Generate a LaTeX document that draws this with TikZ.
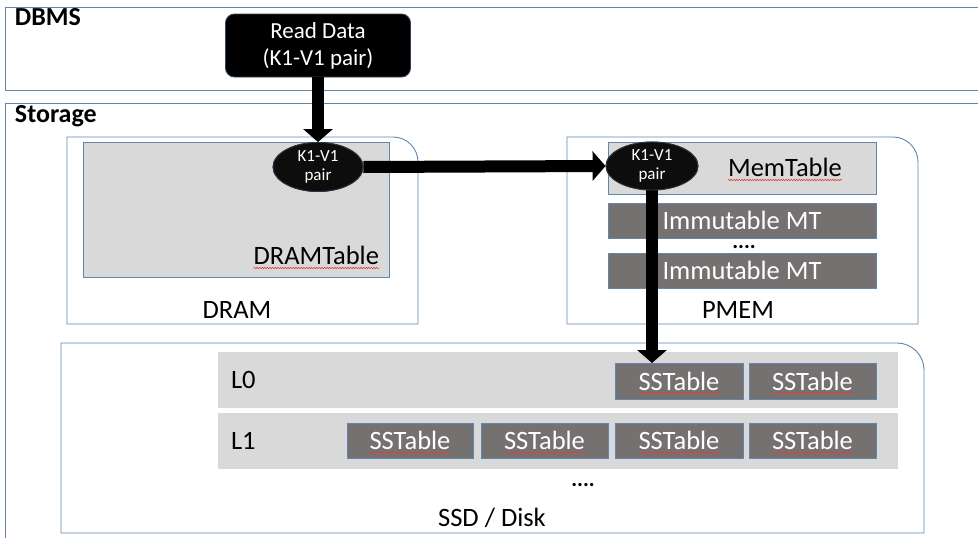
\documentclass[tikz,border=0pt]{standalone}
\usepackage{fontspec}
\setmainfont{Carlito}
\usetikzlibrary{arrows.meta,shapes.geometric,decorations.pathmorphing}

\definecolor{frameblue}{HTML}{6386B0}
\definecolor{lightfill}{HTML}{D9D9D9}
\definecolor{darkfill}{HTML}{767171}
\definecolor{ellfill}{HTML}{0D0D0D}
\definecolor{spellred}{HTML}{E0403A}

\newcommand{\sz}[2]{\fontsize{#1}{#2}\selectfont}

\tikzset{
  x=1pt, y=1pt,
  frameline/.style={draw=frameblue, line width=0.9pt},
  areabox/.style={frameline, anchor=north west, inner sep=0pt, outer sep=0pt},
  tablebox/.style={areabox, fill=lightfill},
  blockbox/.style={areabox, fill=darkfill, text=white, font=\sz{26.5}{31}},
  levelrow/.style={anchor=north west, inner sep=0pt, outer sep=0pt, fill=lightfill},
  pairnode/.style={ellipse, fill=ellfill, draw=frameblue!40!black, line width=0.9pt,
    text=white, inner sep=0pt, font=\sz{17}{19.5}, align=center},
  caption/.style={inner sep=0pt, outer sep=0pt, font=\sz{26.5}{31}},
  title/.style={inner sep=0pt, outer sep=0pt, font=\bfseries\sz{26}{30}},
  dots/.style={inner sep=0pt, outer sep=0pt, anchor=base, font=\bfseries\sz{22}{26},
    text height=4pt, text depth=0pt},
  flow/.style={line width=12pt, -{Triangle[length=13pt,width=29pt]}},
  spell/.style={spellred, line width=0.6pt, decorate,
    decoration={snake, segment length=2.6pt, amplitude=0.7pt}},
}

\begin{document}
\begin{tikzpicture}
\clip (0,0) rectangle (978,-538);
\fill[white] (0,0) rectangle (978,-538);

% outer layers
\node[areabox, minimum width=990pt, minimum height=83pt] (dbms) at (5,-7) {};
\node[title, anchor=base west] (dbmslbl) at (15,-25) {DBMS};
\node[areabox, minimum width=990pt, minimum height=460pt] (storage) at (5,-103) {};
\node[title, anchor=base west] (storagelbl) at (15,-122) {Storage};

% memory panels with one rounded corner
\draw[frameline] (67,-324) -- (67,-137) -- (393,-137)
  arc[start angle=90, end angle=0, radius=25pt] -- (418,-324) -- cycle;
\draw[frameline] (567,-324) -- (567,-137) -- (893,-137)
  arc[start angle=90, end angle=0, radius=25pt] -- (918,-324) -- cycle;
\draw[frameline] (61,-533) -- (61,-343) -- (897,-343)
  arc[start angle=90, end angle=0, radius=27pt] -- (924,-533) -- cycle;

% DRAM
\node[tablebox, minimum width=306pt, minimum height=135pt] (dramtable) at (83,-142) {};
\node[caption, anchor=base east] (dramtablelbl) at (379,-264) {DRAMTable};
\draw[spell] ([yshift=-4pt]dramtablelbl.base west) -- ([yshift=-4pt]dramtablelbl.base east);
\node[caption, anchor=base] (dramlbl) at (237,-318) {DRAM};

% PMEM
\node[tablebox, minimum width=268pt, minimum height=52pt] (memtable) at (608,-142) {};
\node[caption, anchor=base] (memtablelbl) at (785,-176) {MemTable};
\draw[spell] ([yshift=-4pt]memtablelbl.base west) -- ([yshift=-4pt]memtablelbl.base east);
\node[blockbox, minimum width=268pt, minimum height=35pt] (imm1) at (608,-203) {Immutable MT};
\node[dots] (pmemdots) at (744,-248.5) {....};
\node[blockbox, minimum width=268pt, minimum height=35pt] (imm2) at (608,-253) {Immutable MT};
\node[caption, anchor=base] (pmemlbl) at (738,-318) {PMEM};

% SSD / Disk levels
\node[levelrow, minimum width=680pt, minimum height=56pt] (l0row) at (218,-352) {};
\node[levelrow, minimum width=680pt, minimum height=56pt] (l1row) at (218,-413) {};
\node[caption, anchor=west] (l0lbl) at (231,-380) {L0};
\node[caption, anchor=west] (l1lbl) at (231,-441) {L1};

\node[blockbox, minimum width=128pt, minimum height=36pt] (s01) at (615,-363) {SSTable};
\node[blockbox, minimum width=127pt, minimum height=36pt] (s02) at (749,-363) {SSTable};
\node[blockbox, minimum width=126pt, minimum height=35pt] (s11) at (347,-423) {SSTable};
\node[blockbox, minimum width=127pt, minimum height=35pt] (s12) at (481,-423) {SSTable};
\node[blockbox, minimum width=128pt, minimum height=35pt] (s13) at (615,-423) {SSTable};
\node[blockbox, minimum width=127pt, minimum height=35pt] (s14) at (749,-423) {SSTable};
\foreach \s in {s01,s02,s11,s12,s13,s14}{
  \draw[spell] ([xshift=-40pt,yshift=-12pt]\s.center) -- ([xshift=40pt,yshift=-12pt]\s.center);
}
\node[dots] (diskdots) at (583,-486) {....};
\node[caption, anchor=base] (disklbl) at (492,-526) {SSD / Disk};

% request and key-value pair
\node[fill=black, draw=frameblue!50!black, line width=0.9pt, rounded corners=9pt,
  minimum width=185pt, minimum height=63pt, text=white, align=center,
  font=\sz{23}{27}, inner sep=0pt] (read) at (318,-45.5) {Read Data\\(K1-V1 pair)};
\node[pairnode, minimum width=90pt, minimum height=49pt] (pair1) at (318,-167) {K1-V1\\pair};
\node[pairnode, minimum width=92pt, minimum height=48pt] (pair2) at (652,-166) {K1-V1\\pair};

% data flow
\draw[flow] (read.south) -- (pair1.north);
\draw[flow] (pair1.east) -- (pair2.west);
\draw[flow] (pair2.south) -- (pair2.south |- s01.north);
\node[pairnode, minimum width=90pt, minimum height=49pt] at (318,-167) {K1-V1\\pair};
\node[pairnode, minimum width=92pt, minimum height=48pt] at (652,-166) {K1-V1\\pair};
\end{tikzpicture}
\end{document}
